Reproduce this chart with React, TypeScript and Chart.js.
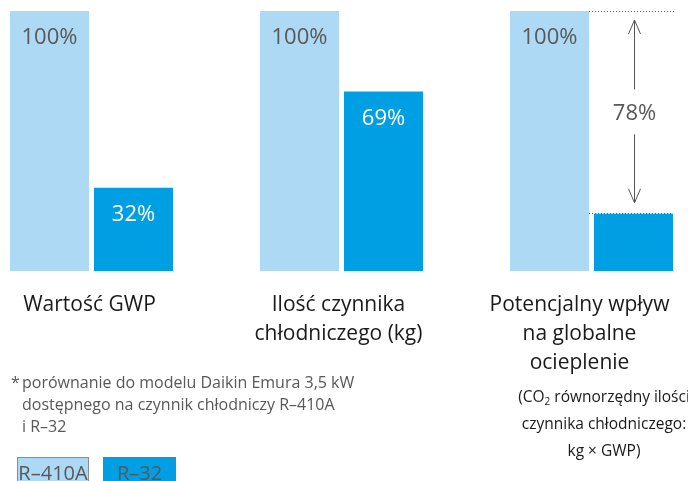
import { useEffect, useRef } from "react";
import { Chart, registerables } from "chart.js";

Chart.register(...registerables);

// ---------- data ----------
const categories: string[][] = [
  ["Wartość GWP"],
  ["Ilość czynnika", "chłodniczego (kg)"],
  ["Potencjalny wpływ", "na globalne", "ocieplenie"],
];
const seriesNames = ["R–410A", "R–32"];
const r410aValues = [100, 100, 100];
const r32Values = [32, 69, 22];
const footnoteLines = [
  "porównanie do modelu Daikin Emura 3,5 kW",
  "dostępnego na czynnik chłodniczy R–410A",
  "i R–32",
];
const noteLines = ["(CO₂ równorzędny ilości", "czynnika chłodniczego:", "kg × GWP)"];

// ---------- styles ----------
const FONT = '"Open Sans", sans-serif';
const LIGHT = "#ADD9F4";
const DARK = "#009FE3";
const GRAY = "#585858";
const INK = "#1a1a1a";

const drawSubText = (ctx: CanvasRenderingContext2D, text: string, cx: number, y: number, size: number) => {
  const parts = text.split("₂");
  const big = `${size}px ${FONT}`;
  if (parts.length === 1) {
    ctx.font = big;
    ctx.textAlign = "center";
    ctx.fillText(text, cx, y);
    return;
  }
  const small = `${Math.round(size * 0.62)}px ${FONT}`;
  ctx.font = big;
  const w1 = ctx.measureText(parts[0]).width;
  const w3 = ctx.measureText(parts[1]).width;
  ctx.font = small;
  const w2 = ctx.measureText("2").width;
  const total = w1 + w2 + w3;
  let x = cx - total / 2;
  ctx.textAlign = "left";
  ctx.font = big;
  ctx.fillText(parts[0], x, y);
  x += w1;
  ctx.font = small;
  ctx.fillText("2", x, y + size * 0.22);
  x += w2;
  ctx.font = big;
  ctx.fillText(parts[1], x, y);
};

const customPlugin = {
  id: "customDraw",
  afterDatasetsDraw(chart: any) {
    const ctx: CanvasRenderingContext2D = chart.ctx;
    ctx.save();
    ctx.textBaseline = "alphabetic";

    // value labels inside bars
    chart.data.datasets.forEach((ds: any, di: number) => {
      const meta = chart.getDatasetMeta(di);
      meta.data.forEach((el: any, i: number) => {
        if (di === 1 && i === 2) return;
        ctx.font = `22px ${FONT}`;
        ctx.fillStyle = di === 0 ? GRAY : "#ffffff";
        ctx.textAlign = "center";
        ctx.fillText(`${ds.data[i]}%`, el.x, el.y + 33);
      });
    });

    // difference annotation on third group
    const light = chart.getDatasetMeta(0).data[2];
    const dark = chart.getDatasetMeta(1).data[2];
    const lightRight = light.x + light.width / 2;
    const darkRight = dark.x + dark.width / 2;
    ctx.strokeStyle = "#666666";
    ctx.lineWidth = 1;
    ctx.setLineDash([1, 2]);
    ctx.beginPath();
    ctx.moveTo(lightRight, Math.round(light.y) + 0.5);
    ctx.lineTo(darkRight + 2, Math.round(light.y) + 0.5);
    ctx.moveTo(lightRight, Math.round(dark.y) - 0.5);
    ctx.lineTo(darkRight, Math.round(dark.y) - 0.5);
    ctx.stroke();
    ctx.setLineDash([]);

    const ax = Math.round(dark.x) + 0.5;
    const mid = (light.y + dark.y) / 2;
    const topTip = light.y + 9;
    const botTip = dark.y - 11;
    ctx.strokeStyle = "#555555";
    ctx.beginPath();
    ctx.moveTo(ax, topTip);
    ctx.lineTo(ax, mid - 23);
    ctx.moveTo(ax - 6, topTip + 14);
    ctx.lineTo(ax, topTip);
    ctx.lineTo(ax + 6, topTip + 14);
    ctx.moveTo(ax, mid + 22);
    ctx.lineTo(ax, botTip);
    ctx.moveTo(ax - 6, botTip - 14);
    ctx.lineTo(ax, botTip);
    ctx.lineTo(ax + 6, botTip - 14);
    ctx.stroke();
    ctx.font = `22px ${FONT}`;
    ctx.fillStyle = GRAY;
    ctx.textAlign = "center";
    const diff = r410aValues[2] - r32Values[2];
    ctx.fillText(`${diff}%`, ax, mid + 8);

    // category labels
    const xScale = chart.scales.x;
    const labelShift = [-2, -3, -12];
    ctx.fillStyle = INK;
    ctx.font = `21px ${FONT}`;
    ctx.textAlign = "center";
    categories.forEach((lines, i) => {
      const cx = xScale.getPixelForValue(i) + labelShift[i];
      lines.forEach((line, li) => {
        ctx.fillText(line, cx, 311 + li * 29);
      });
    });

    // note under third label
    ctx.fillStyle = INK;
    const noteX = xScale.getPixelForValue(2) + 12.5;
    noteLines.forEach((line, li) => {
      drawSubText(ctx, line, noteX, 402 + li * 27, 15.5);
    });

    // footnote
    ctx.fillStyle = GRAY;
    ctx.textAlign = "left";
    ctx.font = `16px ${FONT}`;
    ctx.fillText("*", 11, 388);
    footnoteLines.forEach((line, li) => {
      ctx.fillText(line, 22, 388 + li * 22);
    });

    // legend boxes
    const boxes = [
      { x: 17, w: 72, fill: LIGHT, border: "#8c8c8c" },
      { x: 103, w: 73, fill: DARK, border: null as string | null },
    ];
    boxes.forEach((b, i) => {
      ctx.fillStyle = b.fill;
      ctx.fillRect(b.x, 457, b.w, 30);
      if (b.border) {
        ctx.strokeStyle = b.border;
        ctx.lineWidth = 1;
        ctx.strokeRect(b.x + 0.5, 457.5, b.w - 1, 30);
      }
      ctx.fillStyle = GRAY;
      ctx.font = `20px ${FONT}`;
      ctx.textAlign = "center";
      ctx.fillText(seriesNames[i], b.x + b.w / 2, 480);
    });

    ctx.restore();
  },
};

export default function App() {
  const ref = useRef<HTMLCanvasElement | null>(null);

  useEffect(() => {
    if (!ref.current) return;
    const chart = new Chart(ref.current, {
      type: "bar",
      data: {
        labels: categories.map((c) => c.join(" ")),
        datasets: [
          {
            label: seriesNames[0],
            data: r410aValues,
            backgroundColor: LIGHT,
            borderWidth: 0,
            categoryPercentage: 0.672,
            barPercentage: 79 / 84,
            clip: false as any,
          },
          {
            label: seriesNames[1],
            data: r32Values,
            backgroundColor: DARK,
            borderWidth: 0,
            categoryPercentage: 0.672,
            barPercentage: 79 / 84,
            clip: false as any,
          },
        ],
      },
      options: {
        animation: false,
        responsive: false,
        maintainAspectRatio: false,
        layout: { padding: { left: 91.5, right: 96.5, top: 11, bottom: 210 } },
        plugins: { legend: { display: false }, tooltip: { enabled: false } },
        scales: {
          x: { type: "category", offset: false, display: false },
          y: { min: 0, max: 100, display: false },
        },
      },
      plugins: [customPlugin],
    });
    return () => chart.destroy();
  }, []);

  return (
    <div style={{ position: "absolute", left: 0, top: 0, width: 688, height: 481, background: "#fff" }}>
      <canvas ref={ref} width={688} height={481} style={{ display: "block" }} />
    </div>
  );
}
